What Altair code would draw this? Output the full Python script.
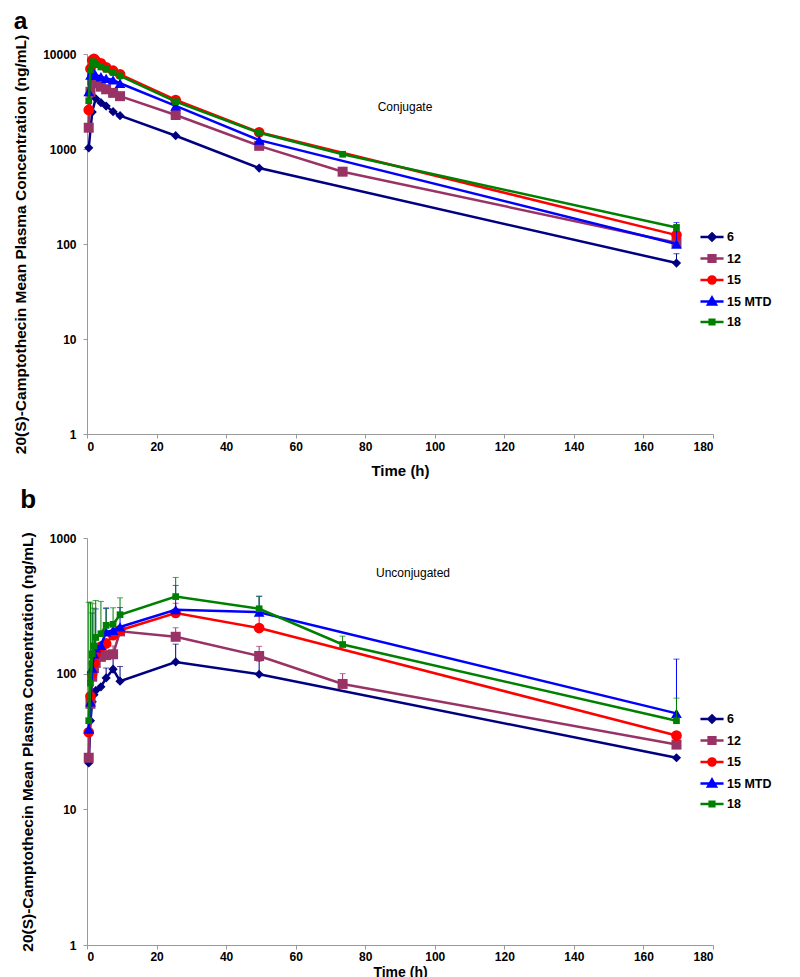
import altair as alt
import pandas as pd

FONT = "Liberation Sans"

times = [0.5, 1, 1.5, 2, 2.5, 4, 5.5, 7.5, 9.5, 25.5, 49.5, 73.5, 169.5]
doses = ["6", "12", "15", "15 MTD", "18"]
colors = ["#000080", "#993366", "#FF0000", "#0000FF", "#008000"]
shapes = ["diamond", "square", "circle", "triangle-up", "square"]
sizes = [85, 100, 115, 115, 45]

# Panel a: conjugate (ng/mL)
conj_6 = [1030, None, 2450, None, 3400, 3070, 2830, 2470, 2240, 1380, 630, None, 63]
conj_12 = [1675, 4000, 5300, 5100, 4920, 4530, 4250, 3900, 3600, 2280, 1080, 577, 103]
conj_15 = [2575, 7000, 8600, 8900, 8500, 7980, 7240, 6670, 6110, 3280, 1500, None, 124]
conj_15mtd = [4010, 6000, 6700, 6300, 6000, 5760, 5540, 5330, 4920, 2840, 1240, None, 100]
conj_18 = [3220, 6800, 8300, 8000, 7700, 7300, 6900, 6400, 5900, 3150, 1480, 880, 149]
conj_err_6 = [None] * 12 + [79]
conj_err_12 = [None] * 13
conj_err_15 = [None] * 13
conj_err_15mtd = [None] * 12 + [168]
conj_err_18 = [None] * 12 + [160]

# Panel b: unconjugated (ng/mL)
unc_6 = [22, 45, 62, 70, 75, 80, 93, 108, 88, 122, 99, None, 24]
unc_12 = [24, 60, 95, 110, 120, 133, 137, 139, 205, 187, 135, 84, 30]
unc_15 = [37, 68, 100, 120, 140, 158, 167, 192, 209, 280, 217, None, 35]
unc_15mtd = [39, 62, 110, 140, 155, 162, 203, 209, 221, 296, 284, None, 51]
unc_18 = [45, 85, 140, 160, 185, 197, 227, 231, 272, 370, 301, 164, 45]
unc_err_6 = [None, None, None, None, None, None, 110, 130, 113, 165, 124, None, None]
unc_err_12 = [None, None, None, None, None, 170, 175, 160, None, 218, 159, 100, None]
unc_err_15 = [None, None, None, None, None, None, None, None, None, 330, 292, None, None]
unc_err_15mtd = [None, None, 280, None, 300, None, 302, None, 307, 447, 372, None, 128]
unc_err_18 = [336, 336, 328, 304, 346, 341, 306, 306, 362, 512, 372, 189, 66]


def build(series, errs):
    rows = []
    for dose, vals, ev in zip(doses, series, errs):
        for t, v, e in zip(times, vals, ev):
            if v is None:
                continue
            rows.append({"dose": dose, "time": t, "conc": v, "err": e})
    return pd.DataFrame(rows)


df_a = build([conj_6, conj_12, conj_15, conj_15mtd, conj_18],
             [conj_err_6, conj_err_12, conj_err_15, conj_err_15mtd, conj_err_18])
df_b = build([unc_6, unc_12, unc_15, unc_15mtd, unc_18],
             [unc_err_6, unc_err_12, unc_err_15, unc_err_15mtd, unc_err_18])

LINE = "M-1.1,0H1.1"
legend_paths = [
    LINE + "M0,-0.34L0.34,0L0,0.34L-0.34,0Z",
    LINE + "M-0.32,-0.32H0.32V0.32H-0.32Z",
    LINE + "M-0.34,0A0.34,0.34,0,1,0,0.34,0A0.34,0.34,0,1,0,-0.34,0Z",
    LINE + "M0,-0.38L0.38,0.28H-0.38Z",
    LINE + "M-0.22,-0.22H0.22V0.22H-0.22Z",
]

TITLE_Y = "20(S)-Camptothecin Mean Plasma Concentration (ng/mL)"


def panel(df, letter, label, ymax, yvals, height, label_pos, legend_y,
          x_title_y, x_title_size, x_label_pad, t_size, t_offset):
    x_enc = alt.X(
        "time:Q",
        scale=alt.Scale(domain=[0, 180], nice=False),
        axis=alt.Axis(title="Time (h)", values=list(range(0, 181, 20)),
                      titleY=x_title_y, titleBaseline="alphabetic",
                      titleFontSize=x_title_size, labelPadding=x_label_pad),
    )
    y_scale = alt.Scale(type="log", domain=[1, ymax], nice=False)
    y_enc = alt.Y("conc:Q", scale=y_scale,
                  axis=alt.Axis(title=TITLE_Y, values=yvals, format="d"))
    layers = []
    for dose, col, shp, sz in zip(doses, colors, shapes, sizes):
        base = alt.Chart(df).transform_filter(alt.datum.dose == dose)
        err = base.transform_filter("isValid(datum.err)")
        layers.append(err.mark_rule(color=col, strokeWidth=1).encode(
            x=x_enc, y=y_enc, y2="err:Q"))
        layers.append(err.mark_tick(color=col, orient="horizontal", size=6, thickness=1).encode(
            x=x_enc, y=alt.Y("err:Q", scale=y_scale)))
        layers.append(base.mark_line(color=col, strokeWidth=2.5).encode(x=x_enc, y=y_enc))
        layers.append(base.mark_point(filled=True, shape=shp, size=sz, color=col, opacity=1).encode(
            x=x_enc, y=y_enc))

    leg = alt.Legend(
        title=None, orient="none", legendX=613, legendY=legend_y,
        symbolSize=441, symbolStrokeWidth=2.5, symbolOpacity=1,
        labelFont=FONT, labelFontWeight="bold", labelFontSize=12.5, labelColor="black",
        labelOffset=3, rowPadding=0.5, padding=0,
    )
    legend_layer = alt.Chart(alt.Data(values=[])).mark_point(filled=True, opacity=1).encode(
        fill=alt.Fill("dose:N", scale=alt.Scale(domain=doses, range=colors), legend=leg),
        stroke=alt.Stroke("dose:N", scale=alt.Scale(domain=doses, range=colors), legend=leg),
        shape=alt.Shape("dose:N", scale=alt.Scale(domain=doses, range=legend_paths), legend=leg),
    )
    text_layer = alt.Chart(alt.Data(values=[{"t": label}])).mark_text(
        font=FONT, fontSize=12, align="center", baseline="middle", color="black"
    ).encode(x=alt.value(label_pos[0]), y=alt.value(label_pos[1]), text="t:N")

    return alt.layer(*layers, text_layer, legend_layer).properties(
        width=626, height=height,
        title=alt.TitleParams(letter, anchor="start", frame="bounds", fontSize=t_size,
                              fontWeight="bold", font=FONT, color="black", offset=t_offset),
    )


pa = panel(df_a, "a", "Conjugate", 10000, [1, 10, 100, 1000, 10000], 380, (318, 53), 171,
           41, 15, 3, 24.5, 0)
pb = panel(df_b, "b", "Unconjugated", 1000, [1, 10, 100, 1000], 407, (326, 35), 169,
           31, 14, 2, 26, 19)

chart = alt.vconcat(pa, pb, spacing=8).resolve_scale(
    fill="independent", stroke="independent", shape="independent"
).resolve_legend(fill="independent", stroke="independent", shape="independent").properties(
    padding={"left": 5, "top": 0, "right": 5, "bottom": 0}
).configure_view(
    stroke=None
).configure_axis(
    grid=False, domainColor="#999999", tickColor="#999999", tickSize=4,
    labelFont=FONT, labelFontWeight="bold", labelFontSize=12, labelColor="black",
    titleFont=FONT, titleFontWeight="bold", titleColor="black",
).configure_axisY(
    titleFontSize=15.5, labelPadding=7, titlePadding=14
)

chart.save("out.html", embed_options={"renderer": "svg", "actions": False})
